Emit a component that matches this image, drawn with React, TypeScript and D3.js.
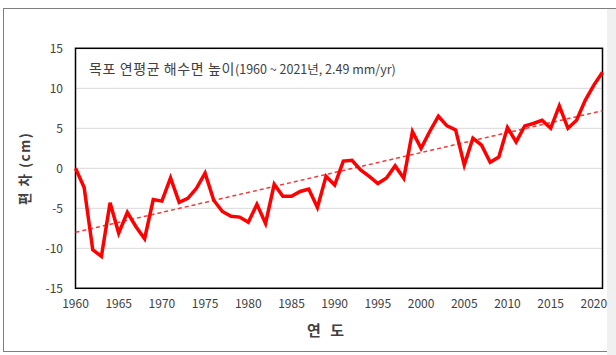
import React from "react";
import * as d3 from "d3";

const years: number[] = d3.range(1960, 2022);
const values: number[] = [
  0.0, -2.4, -10.2, -11.0, -4.3, -8.1, -5.5, -7.3, -8.8, -3.9,
  -4.1, -1.2, -4.25, -3.75, -2.5, -0.6, -4.0, -5.4, -6.0, -6.1,
  -6.75, -4.5, -6.9, -2.0, -3.5, -3.5, -2.9, -2.6, -4.9, -1.0,
  -2.1, 0.9, 1.0, -0.2, -1.0, -1.9, -1.2, 0.3, -1.25, 4.6,
  2.5, 4.6, 6.5, 5.3, 4.8, 0.4, 3.75, 2.9, 0.75, 1.4,
  5.1, 3.3, 5.3, 5.6, 6.0, 5.0, 7.8, 5.0, 6.0, 8.5,
  10.4, 12.0,
];
const trendYears: number[] = [1960, 2021];
const trendValues: number[] = [-8.0, 7.2];
const yTicks: number[] = [-15, -10, -5, 0, 5, 10, 15];
const xTicks: number[] = [1960, 1965, 1970, 1975, 1980, 1985, 1990, 1995, 2000, 2005, 2010, 2015, 2020];
const titleMain = "목포 연평균 해수면 높이";
const titleSub = "(1960 ~ 2021년, 2.49 mm/yr)";
const yLabel = "편 차 (cm)";
const xLabel = "연 도";

export default function App() {
  const W = 616, H = 355;
  const left = 75.5, right = 602.5, top = 48.3, bottom = 288.3;
  const x = d3.scaleLinear().domain([1960, 2021]).range([left, right]);
  const y = d3.scaleLinear().domain([-15, 15]).range([bottom, top]);
  const line = d3.line<number>().x((_, i) => x(years[i])).y((d) => y(d));
  const trend = d3.line<number>().x((_, i) => x(trendYears[i])).y((d) => y(d));
  const font = "'Malgun Gothic', 'Noto Sans CJK KR', 'Noto Sans', sans-serif";
  return (
    <svg width={W} height={H} style={{ position: "absolute", left: 0, top: 0, background: "#fff" }}>
      <rect x={0} y={0} width={W} height={H} fill="#fff" />
      <rect x={3.5} y={8.5} width={620} height={343} fill="none" stroke="#7f7f7f" strokeWidth={1} />
      <rect x={607} y={9} width={9} height={H} fill="#f0f0f0" />
      {yTicks.map((t) => (
        <line key={"g" + t} x1={left} x2={right} y1={y(t)} y2={y(t)} stroke="#d9d9d9" strokeWidth={1} />
      ))}
      <rect x={left} y={top} width={right - left} height={bottom - top} fill="none" stroke="#000" strokeWidth={1.5} />
      <path d={trend(trendValues) || ""} fill="none" stroke="#f03c3c" strokeWidth={1.5} strokeDasharray="4,3" />
      <path d={line(values) || ""} fill="none" stroke="#ff0000" strokeWidth={3.5} strokeLinejoin="miter" />
      {yTicks.map((t) => (
        <text key={"y" + t} x={63} y={y(t) + 4.5} textAnchor="end" fontSize={12} fill="#404040" fontFamily={font}>
          {t}
        </text>
      ))}
      {xTicks.map((t) => (
        <text key={"x" + t} x={x(t)} y={308} textAnchor="middle" fontSize={12} fill="#404040" fontFamily={font}>
          {t}
        </text>
      ))}
      <text x={89} y={74} fontSize={14} fill="#404040" fontFamily={font}>
        <tspan letterSpacing={0.6}>{titleMain}</tspan>
        <tspan fontSize={12.5}>{titleSub}</tspan>
      </text>
      <text x={327} y={336} textAnchor="middle" fontSize={15} fontWeight="bold" fill="#404040" fontFamily={font} letterSpacing={3}>
        {xLabel}
      </text>
      <text
        transform={`translate(30,${(top + bottom) / 2}) rotate(-90)`}
        textAnchor="middle"
        fontSize={13.5}
        fontWeight="bold"
        fill="#404040"
        fontFamily={font}
        letterSpacing={1.5}
      >
        {yLabel}
      </text>
    </svg>
  );
}
